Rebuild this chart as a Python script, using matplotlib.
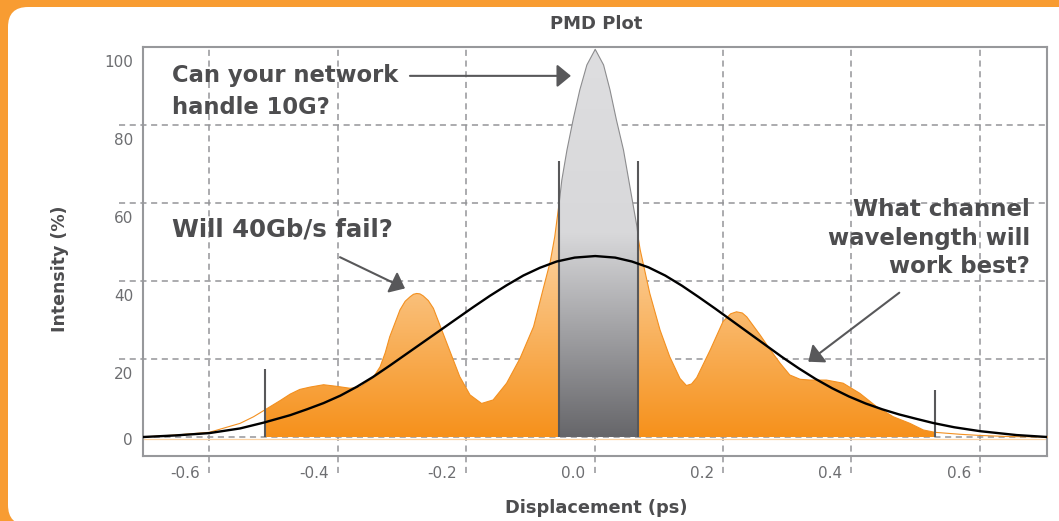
import numpy as np
import matplotlib.pyplot as plt
from matplotlib.patches import FancyBboxPatch
from matplotlib.colors import LinearSegmentedColormap

# PMD trace (displacement in ps, intensity in %)
trace_x = [-0.703, -0.653, -0.600, -0.552, -0.531, -0.514, -0.490, -0.474, -0.459,
           -0.443, -0.422, -0.402, -0.381, -0.365, -0.345, -0.334, -0.326, -0.319,
           -0.303, -0.295, -0.287, -0.282, -0.277, -0.272, -0.267, -0.259, -0.251,
           -0.236, -0.225, -0.210, -0.194, -0.176, -0.158, -0.137, -0.116, -0.095,
           -0.080, -0.069, -0.062, -0.055,
           -0.051, -0.043, -0.033, -0.023, -0.012, 0.001, 0.014, 0.024, 0.034,
           0.045, 0.055, 0.066, 0.068,
           0.071, 0.086, 0.102, 0.117, 0.133, 0.143, 0.151, 0.159, 0.180, 0.200,
           0.212, 0.221, 0.230, 0.237, 0.258, 0.273, 0.289, 0.304, 0.320, 0.335,
           0.361, 0.387, 0.413, 0.439, 0.465, 0.491, 0.512, 0.530, 0.569, 0.600,
           0.647, 0.705]
trace_y = [0.0, 0.5, 1.2, 3.5, 5.2, 6.9, 9.3, 11.0, 12.2,
           12.8, 13.4, 13.0, 12.5, 12.8, 15.2, 18.0, 21.6, 25.7,
           32.6, 34.8, 36.0, 36.6, 36.8, 36.7, 36.2, 35.0, 33.0,
           26.6, 21.9, 15.5, 10.8, 8.6, 9.5, 13.8, 20.2, 28.3,
           38.0, 45.0, 51.4, 60.2,
           65.9, 73.6, 81.7, 89.0, 95.4, 99.4, 95.4, 89.0, 81.3,
           73.6, 64.2, 53.9, 51.0,
           48.0, 36.8, 27.4, 20.6, 15.0, 13.2, 13.6, 15.2, 22.3, 29.6,
           31.6, 32.1, 31.8, 30.8, 26.1, 22.5, 18.9, 15.9, 14.8, 14.6,
           14.6, 13.8, 11.2, 7.8, 5.2, 3.5, 1.8, 1.2, 0.7, 0.4,
           0.1, 0.0]

# fitted curve (black)
fit_x = [-0.703, -0.653, -0.600, -0.552, -0.515, -0.474, -0.448, -0.422, -0.396,
         -0.370, -0.345, -0.319, -0.293, -0.267, -0.241, -0.215, -0.189, -0.163,
         -0.137, -0.111, -0.085, -0.059, -0.031, 0.001, 0.032, 0.058, 0.084,
         0.110, 0.136, 0.162, 0.188, 0.214, 0.240, 0.266, 0.292, 0.318, 0.344,
         0.370, 0.396, 0.422, 0.448, 0.474, 0.500, 0.527, 0.560, 0.600, 0.657,
         0.705]
fit_y = [0.0, 0.4, 1.0, 2.2, 3.7, 5.6, 7.1, 8.7, 10.6,
         12.9, 15.4, 18.3, 21.3, 24.3, 27.3, 30.3, 33.3, 36.2,
         38.9, 41.4, 43.4, 45.0, 46.0, 46.4, 46.0, 45.0, 43.5,
         41.4, 38.8, 35.9, 32.9, 29.8, 26.7, 23.6, 20.5, 17.6, 14.9,
         12.5, 10.4, 8.6, 7.1, 5.8, 4.7, 3.6, 2.5, 1.5, 0.5,
         0.0]

# marker bars: outer window and inner window
outer_x = [-0.514, 0.530]
outer_h = [17.4, 12.1]
inner_x = [-0.055, 0.068]
inner_h = [70.8, 70.8]

x_ticks = [-0.6, -0.4, -0.2, 0.0, 0.2, 0.4, 0.6]
y_ticks = [0, 20, 40, 60, 80, 100]

txt_c = '#4d4d4f'
grid_c = '#949598'
dash = (0, (4, 3))

fig = plt.figure(figsize=(10.59, 5.21), dpi=100)
fig.patch.set_facecolor('#f89c32')
panel = FancyBboxPatch((0.08, -0.04), 11.0, 5.18, boxstyle='round,pad=0,rounding_size=0.2',
                       transform=fig.dpi_scale_trans, facecolor='white', edgecolor='none',
                       zorder=-1)
fig.add_artist(panel)

ax = fig.add_axes([143 / 1059, 1 - 456 / 521, 904 / 1059, 409 / 521])
ax.set_facecolor('white')
xmin, xmax = -0.7032, 0.7045
ymin, ymax = -4.87, 100

tx = np.array(trace_x)
ty = np.array(trace_y)

# grid (dashed, running a bit past the frame like ticks)
for v in x_ticks:
    ax.axvline(v, ymin=-0.042, ymax=1, color=grid_c, lw=1.1, ls=dash, clip_on=False, zorder=1)
for v in y_ticks[1:-1]:
    ax.axhline(v, xmin=-0.026, xmax=1, color=grid_c, lw=1.1, ls=dash, clip_on=False, zorder=1)
ax.axhline(0, color=grid_c, lw=1.1, ls=dash, zorder=1)
ax.axhline(-0.4, color='#fcd3a4', lw=0.9, zorder=1.5)

# orange area between the outer bars, vertical gradient
m = (tx >= outer_x[0]) & (tx <= outer_x[1])
poly = ax.fill_between(tx[m], ty[m], 0, facecolor='none', edgecolor='none')
orange_cmap = LinearSegmentedColormap.from_list('orng', ['#f6911b', '#fde0bc'])
grad = np.linspace(0, 1, 256).reshape(-1, 1)
im = ax.imshow(grad, extent=[xmin, xmax, 0, 62], origin='lower', cmap=orange_cmap,
               aspect='auto', zorder=2)
im.set_clip_path(poly.get_paths()[0], ax.transData)

# grey area between the inner bars
m2 = (tx >= inner_x[0]) & (tx <= inner_x[1])
poly2 = ax.fill_between(tx[m2], ty[m2], 0, facecolor='none', edgecolor='none')
grey_cmap = LinearSegmentedColormap.from_list(
    'gry', [(0, '#66666a'), (0.52, '#d8d8da'), (1, '#dedee0')])
im2 = ax.imshow(grad, extent=[xmin, xmax, 0, 100], origin='lower', cmap=grey_cmap,
                aspect='auto', zorder=3)
im2.set_clip_path(poly2.get_paths()[0], ax.transData)

# outlines
left = tx <= inner_x[0]
right = tx >= inner_x[1]
ax.plot(tx[left], ty[left], color='#f39020', lw=0.8, zorder=4)
ax.plot(tx[right], ty[right], color='#f39020', lw=0.8, zorder=4, clip_on=False)
ax.plot(tx[m2], ty[m2], color='#8c8c8e', lw=0.8, zorder=4)

# bars
ax.vlines(outer_x, 0, outer_h, color='#58585a', lw=1.5, zorder=5)
ax.vlines(inner_x, 0, inner_h, color='#58585a', lw=1.5, zorder=5)

# fitted curve
ax.plot(fit_x, fit_y, color='black', lw=1.7, zorder=6, solid_capstyle='round',
        solid_joinstyle='round')

ax.set_xlim(xmin, xmax)
ax.set_ylim(ymin, ymax)
ax.set_xticks([])
ax.set_yticks([])
for s in ax.spines.values():
    s.set_color('#97989b')
    s.set_linewidth(1.5)

# tick labels, set beside the dashed tick lines
for v in x_ticks:
    ax.text(v - 0.014, -0.0428, f'{v:.1f}', transform=ax.get_xaxis_transform(),
            ha='right', va='center', fontsize=11, color='#6d6e71')
for v in y_ticks:
    off = 0.8 if v == 0 else 4.0
    ax.text(-0.011, v - off, str(v), transform=ax.get_yaxis_transform(),
            ha='right', va='center', fontsize=11, color='#6d6e71')

fig.text(596 / 1059, 1 - 24 / 521, 'PMD Plot', ha='center', va='center',
         fontsize=13, fontweight='bold', color=txt_c)
fig.text(60 / 1059, 1 - 269 / 521, 'Intensity (%)', ha='center', va='center',
         rotation=90, fontsize=12.5, fontweight='bold', color=txt_c)
fig.text(596 / 1059, 1 - 508 / 521, 'Displacement (ps)', ha='center', va='center',
         fontsize=12.8, fontweight='bold', color=txt_c)

# callouts
ax.text(-0.658, 88.6, 'Can your network\nhandle 10G?', ha='left', va='center',
        fontsize=16.3, fontweight='bold', color=txt_c, linespacing=1.45, zorder=7)
ax.text(-0.658, 53.1, 'Will 40Gb/s fail?', ha='left', va='center',
        fontsize=17.6, fontweight='bold', color=txt_c, zorder=7)
ax.text(0.678, 51.0, 'What channel\nwavelength will\nwork best?', ha='right', va='center',
        fontsize=16.5, fontweight='bold', color=txt_c, linespacing=1.3, zorder=7)

arrow = dict(arrowstyle='-|>,head_length=0.85,head_width=0.7', color='#58585a', lw=1.5,
             mutation_scale=10, shrinkA=0, shrinkB=0)
ax.annotate('', xy=(-0.0368, 92.6), xytext=(-0.2875, 92.6), arrowprops=arrow, zorder=7)
ax.annotate('', xy=(-0.2952, 38.1), xytext=(-0.3964, 46.1), arrowprops=arrow, zorder=7)
ax.annotate('', xy=(0.3328, 19.3), xytext=(0.4745, 37.0), arrowprops=arrow, zorder=7)

fig.savefig('out.png', dpi=100, facecolor=fig.get_facecolor())
